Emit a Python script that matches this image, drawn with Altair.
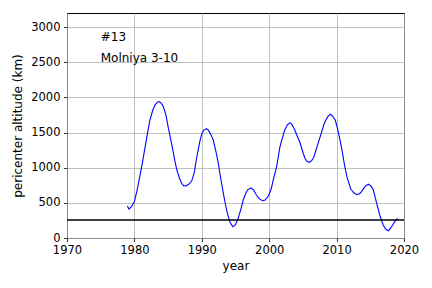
import altair as alt
import pandas as pd

years = [1978.95, 1979.2, 1979.6, 1980.0, 1980.4, 1980.8, 1981.2, 1981.6, 1982.0, 1982.3,
         1982.7, 1983.06, 1983.4, 1983.7, 1984.0, 1984.3, 1984.7, 1985.0, 1985.35, 1985.7,
         1986.0, 1986.3, 1986.65, 1987.0, 1987.3, 1987.65, 1988.0, 1988.5, 1988.9, 1989.2,
         1989.7, 1990.0, 1990.3, 1990.7, 1991.0, 1991.35, 1991.7, 1992.1, 1992.45, 1992.8,
         1993.2, 1993.5, 1993.8, 1994.2, 1994.6, 1995.0, 1995.4, 1995.8, 1996.15, 1996.5,
         1996.8, 1997.3, 1997.7, 1998.1, 1998.5, 1999.0, 1999.4, 1999.9, 2000.3, 2000.6,
         2001.1, 2001.6, 2001.95, 2002.3, 2002.7, 2003.1, 2003.4, 2003.8, 2004.2, 2004.6,
         2005.0, 2005.3, 2005.6, 2005.95, 2006.3, 2006.6, 2007.1, 2007.5, 2007.8, 2008.1,
         2008.4, 2008.8, 2009.1, 2009.5, 2009.8, 2010.1, 2010.4, 2010.8, 2011.15, 2011.55,
         2012.1, 2012.6, 2013.0, 2013.4, 2013.7, 2014.2, 2014.7, 2015.1, 2015.45, 2015.95,
         2016.4, 2016.9, 2017.3, 2017.7, 2018.1, 2018.4, 2018.75, 2019.05]
altitude = [455, 412, 450, 517, 680, 872, 1080, 1299, 1520, 1678,
            1810, 1892, 1930, 1940, 1915, 1868, 1740, 1583, 1420, 1252,
            1100, 967, 860, 778, 745, 740, 760, 810, 940, 1120,
            1370, 1480, 1535, 1555, 1530, 1470, 1394, 1230, 1062, 850,
            636, 480, 351, 220, 161, 190, 280, 410, 540, 630,
            685, 711, 680, 612, 560, 530, 540, 600, 700, 825,
            1014, 1299, 1420, 1536, 1610, 1640, 1610, 1536, 1440, 1347,
            1220, 1134, 1090, 1077, 1100, 1145, 1299, 1420, 1512, 1610,
            1678, 1740, 1759, 1720, 1678, 1570, 1441, 1250, 1052, 863,
            697, 640, 616, 630, 659, 730, 764, 740, 683, 494,
            327, 185, 125, 104, 150, 199, 250, 280]

limit_years = [1970, 2020]
limit_alt = [255, 255]

labels = ["#13", "Molniya 3-10"]
label_x = [1975, 1975]
label_y = [2800, 2500]

df = pd.DataFrame({"year": years, "alt": altitude})
df_lim = pd.DataFrame({"year": limit_years, "alt": limit_alt})
df_lab = pd.DataFrame({"text": labels, "year": label_x, "alt": label_y})

xs = alt.Scale(domain=[1970, 2020], nice=False, zero=False)
ys = alt.Scale(domain=[0, 3200], nice=False)

xax = alt.Axis(values=[1970, 1980, 1990, 2000, 2010, 2020], format="d", title="year",
               tickSize=3.5, labelPadding=3, titlePadding=4, labelFlush=False)
yax = alt.Axis(values=[0, 500, 1000, 1500, 2000, 2500, 3000], format="d",
               title="pericenter altitude (km)", tickSize=3.5, labelPadding=3.5,
               titlePadding=6, labelFlush=False)

X = alt.X("year:Q", scale=xs, axis=xax)
Y = alt.Y("alt:Q", scale=ys, axis=yax)

line = alt.Chart(df).mark_line(color="blue", strokeWidth=1.1, clip=True).encode(x=X, y=Y)

lim = alt.Chart(df_lim).mark_line(color="black", strokeWidth=1.5, clip=True).encode(x=X, y=Y)

txt = alt.Chart(df_lab).mark_text(align="left", baseline="alphabetic", fontSize=12,
                                  font="DejaVu Sans", color="black").encode(
    x=X, y=Y, text="text:N",
)

chart = alt.layer(line, lim, txt).properties(
    width=337, height=225,
    autosize=alt.AutoSizeParams(type="none"),
    padding={"left": 59, "top": 5, "right": 20, "bottom": 40},
    background="white",
).configure_view(
    stroke="black", strokeWidth=1
).configure_axis(
    grid=True, gridColor="#b0b0b0", gridWidth=0.8,
    domain=False, tickColor="black", tickWidth=0.8,
    labelFont="DejaVu Sans", labelFontSize=11.5, labelColor="black",
    titleFont="DejaVu Sans", titleFontSize=12, titleFontWeight="normal", titleColor="black",
)

chart.save("out.html", embed_options={"renderer": "svg", "actions": False})
